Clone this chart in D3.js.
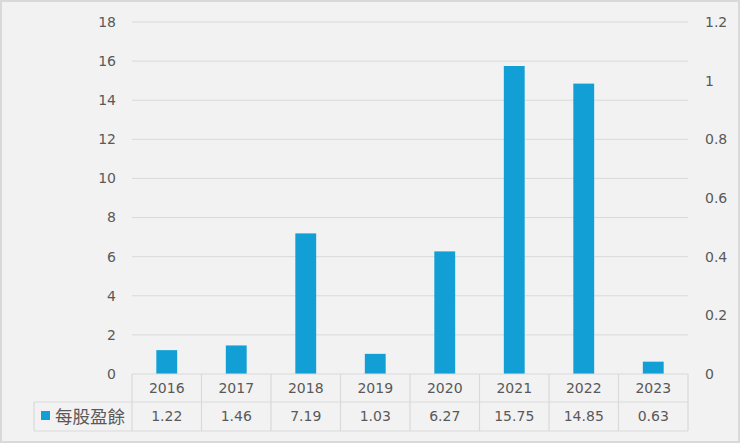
<!DOCTYPE html>
<html>
<head>
<meta charset="utf-8">
<script src="https://cdn.jsdelivr.net/npm/d3@7"></script>
<style>
  body { margin: 0; background: #f2f2f2; }
  text { font-family: "DejaVu Sans", Verdana, sans-serif; fill: #595959; }
  .cjk { font-family: "Noto Sans CJK TC", sans-serif; }
</style>
</head>
<body>
<div id="chart"></div>
<script>
var years = ["2016", "2017", "2018", "2019", "2020", "2021", "2022", "2023"];
var eps = [1.22, 1.46, 7.19, 1.03, 6.27, 15.75, 14.85, 0.63];
var seriesName = "每股盈餘";
var leftTicks = [0, 2, 4, 6, 8, 10, 12, 14, 16, 18];
var rightTicks = [0, 0.2, 0.4, 0.6, 0.8, 1, 1.2];

var width = 740, height = 443;
var svg = d3.select("#chart")
    .append("svg")
    .attr("width", width)
    .attr("height", height);

svg.append("rect")
    .attr("x", 1).attr("y", 1)
    .attr("width", width - 2).attr("height", height - 2)
    .attr("fill", "#f2f2f2")
    .attr("stroke", "#d9d9d9")
    .attr("stroke-width", 2);

var plotLeft = 132, plotRight = 688, plotTop = 22, plotBottom = 374;

var x = d3.scaleBand()
    .domain(years)
    .range([plotLeft, plotRight])
    .paddingInner(0.7)
    .paddingOuter(0.35);

var xCol = d3.scaleBand()
    .domain(years)
    .range([plotLeft, plotRight]);

var y = d3.scaleLinear().domain([0, 18]).range([plotBottom, plotTop]);
var y2 = d3.scaleLinear().domain([0, 1.2]).range([plotBottom, plotTop]);

// gridlines
svg.append("g").selectAll("line")
    .data(leftTicks.filter(function(d) { return d > 0; }))
    .enter().append("line")
    .attr("x1", plotLeft).attr("x2", plotRight)
    .attr("y1", function(d) { return y(d); })
    .attr("y2", function(d) { return y(d); })
    .attr("stroke", "#d9d9d9")
    .attr("stroke-width", 1);

// left axis
svg.append("g").selectAll("text")
    .data(leftTicks)
    .enter().append("text")
    .attr("x", 116)
    .attr("y", function(d) { return y(d); })
    .attr("dy", "0.35em")
    .attr("text-anchor", "end")
    .style("font-size", "14px")
    .text(function(d) { return d; });

// right axis
svg.append("g").selectAll("text")
    .data(rightTicks)
    .enter().append("text")
    .attr("x", 705)
    .attr("y", function(d) { return y2(d); })
    .attr("dy", "0.35em")
    .attr("text-anchor", "start")
    .style("font-size", "14px")
    .text(function(d) { return d; });

// bars
svg.append("g").selectAll("rect")
    .data(eps)
    .enter().append("rect")
    .attr("x", function(d, i) { return x(years[i]); })
    .attr("width", x.bandwidth())
    .attr("y", function(d) { return y(d); })
    .attr("height", function(d) { return plotBottom - y(d); })
    .attr("fill", "#119fd6");

// data table
var row1 = 402, row2 = 431, tableLeft = 34;
var grid = svg.append("g").attr("stroke", "#d9d9d9").attr("stroke-width", 1.2);
grid.append("line").attr("x1", plotLeft).attr("x2", plotRight).attr("y1", plotBottom).attr("y2", plotBottom);
grid.append("line").attr("x1", tableLeft).attr("x2", plotRight).attr("y1", row1).attr("y2", row1);
grid.append("line").attr("x1", tableLeft).attr("x2", plotRight).attr("y1", row2).attr("y2", row2);
grid.append("line").attr("x1", tableLeft).attr("x2", tableLeft).attr("y1", row1).attr("y2", row2);
grid.selectAll(".v")
    .data(years.concat(["end"]))
    .enter().append("line")
    .attr("x1", function(d, i) { return plotLeft + i * xCol.bandwidth(); })
    .attr("x2", function(d, i) { return plotLeft + i * xCol.bandwidth(); })
    .attr("y1", plotBottom).attr("y2", row2);

svg.append("g").selectAll("text")
    .data(years)
    .enter().append("text")
    .attr("x", function(d) { return xCol(d) + xCol.bandwidth() / 2; })
    .attr("y", (plotBottom + row1) / 2)
    .attr("dy", "0.35em")
    .attr("text-anchor", "middle")
    .style("font-size", "14px")
    .text(function(d) { return d; });

svg.append("g").selectAll("text")
    .data(eps)
    .enter().append("text")
    .attr("x", function(d, i) { return xCol(years[i]) + xCol.bandwidth() / 2; })
    .attr("y", (row1 + row2) / 2)
    .attr("dy", "0.35em")
    .attr("text-anchor", "middle")
    .style("font-size", "14px")
    .text(function(d) { return d3.format(".2f")(d); });

svg.append("rect")
    .attr("x", 41).attr("y", 411)
    .attr("width", 9).attr("height", 9)
    .attr("fill", "#119fd6");

svg.append("text")
    .attr("class", "cjk")
    .attr("x", 55)
    .attr("y", (row1 + row2) / 2)
    .attr("dy", "0.35em")
    .style("font-size", "17.5px")
    .text(seriesName);
</script>
</body>
</html>
